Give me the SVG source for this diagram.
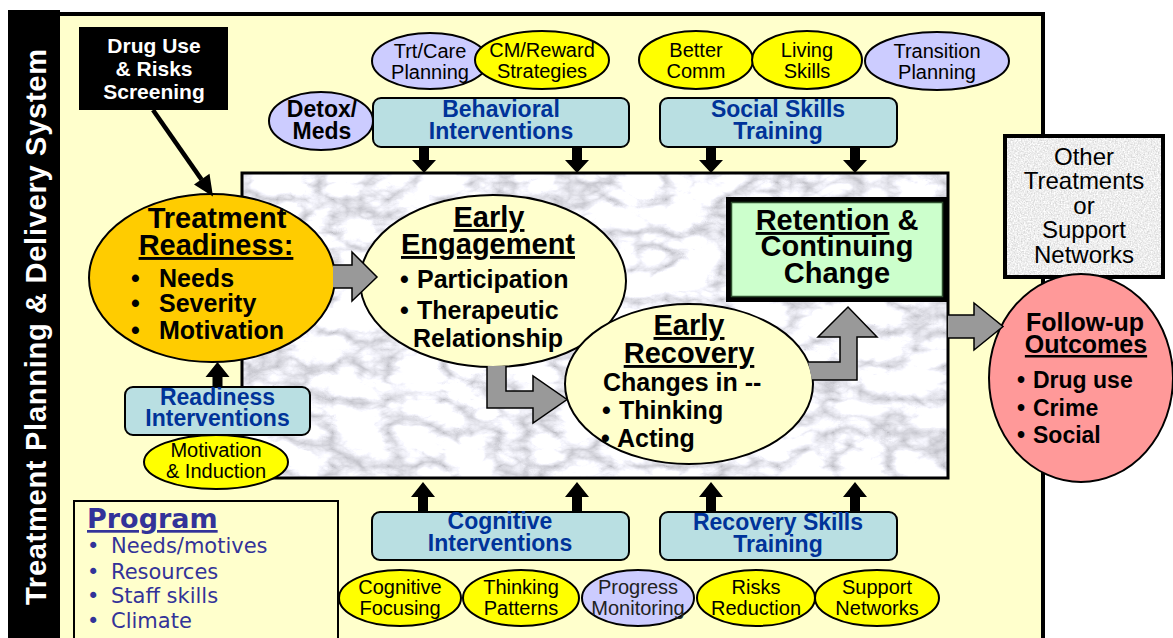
<svg xmlns="http://www.w3.org/2000/svg" width="1173" height="638" viewBox="0 0 1173 638">
<defs>
<style>
text{font-family:"Liberation Sans",Arial,sans-serif;fill:#000}
.b{font-weight:bold}
.c{text-anchor:middle}
.u{text-decoration:underline}
.ol{stroke:#000;stroke-width:2}
.yel{fill:#FFFF00;stroke:#000;stroke-width:2}
.lav{fill:#CCCCFF;stroke:#000;stroke-width:2}
.teal{fill:#B9DFE2;stroke:#000;stroke-width:2}
.sm{font-size:20px;text-anchor:middle}
.bx{font-size:23px;font-weight:bold;fill:#003399;text-anchor:middle}
.gray{fill:#999999;stroke:#000;stroke-width:1.5;stroke-linejoin:miter}
.blk{fill:#000}
.t30{font-size:29px;font-weight:bold;text-anchor:middle}
.t26{font-size:25px;font-weight:bold}
.prog{font-family:"DejaVu Sans",Verdana,sans-serif;fill:#333399;font-size:21px}
</style>
<filter id="marbleF" x="0" y="0" width="1" height="1" color-interpolation-filters="sRGB">
<feTurbulence type="turbulence" baseFrequency="0.018 0.03" numOctaves="5" seed="11"/>
<feColorMatrix type="matrix" values="0.7 0 0 0 0.74 0.7 0 0 0 0.74 0.7 0 0 0 0.77 0 0 0 0 1"/>
</filter>
<filter id="speckF" x="0" y="0" width="1" height="1" color-interpolation-filters="sRGB">
<feTurbulence type="fractalNoise" baseFrequency="0.7" numOctaves="2" seed="3"/>
<feColorMatrix type="matrix" values="0.3 0 0 0 0.78 0.3 0 0 0 0.78 0.3 0 0 0 0.78 0 0 0 0 1"/>
</filter>
<path id="arrDown" d="M-5,0 H5 V13 H12 L0,26 L-12,13 H-5 Z"/>
<path id="arrUp" d="M-5,0 H5 V-15 H12 L0,-30 L-12,-15 H-5 Z"/>
</defs>

<rect x="0" y="0" width="1173" height="638" fill="#fff"/>

<g id="panel">
<rect x="58" y="14" width="985" height="640" fill="#FFFFCC" stroke="#000" stroke-width="4"/>
<rect x="8" y="10" width="52" height="628" fill="#000"/>
<text transform="translate(46,327) rotate(-90)" class="b c" style="fill:#fff;font-size:29px" textLength="556" lengthAdjust="spacing">Treatment Planning &amp; Delivery System</text>
</g>

<g id="marble">
<rect x="242" y="173" width="706" height="305" fill="#ddd" filter="url(#marbleF)"/>
<rect x="242" y="173" width="706" height="305" fill="none" stroke="#000" stroke-width="3"/>
</g>

<g id="program">
<rect x="74" y="501" width="264" height="150" fill="#FFFFCC" stroke="#000" stroke-width="2"/>
<text x="87" y="528" class="prog u" style="font-weight:bold;font-size:27px">Program</text>
<text y="553" class="prog"><tspan x="87">•</tspan><tspan x="111">Needs/motives</tspan></text>
<text y="579" class="prog"><tspan x="87">•</tspan><tspan x="111">Resources</tspan></text>
<text y="603" class="prog"><tspan x="87">•</tspan><tspan x="111">Staff skills</tspan></text>
<text y="628" class="prog"><tspan x="87">•</tspan><tspan x="111">Climate</tspan></text>
</g>

<g id="screening">
<rect x="79" y="27" width="149" height="83" fill="#000"/>
<text class="b c" style="fill:#fff;font-size:21px"><tspan x="154" y="53">Drug Use</tspan><tspan x="154" y="76">&amp; Risks</tspan><tspan x="154" y="99">Screening</tspan></text>
</g>

<g id="trtcare"><ellipse cx="430" cy="61" rx="58" ry="28" class="lav"/>
<text class="sm"><tspan x="430" y="58">Trt/Care</tspan><tspan x="430" y="79">Planning</tspan></text></g>
<g id="cmreward"><ellipse cx="542" cy="60" rx="67" ry="29" class="yel"/>
<text class="sm"><tspan x="542" y="57">CM/Reward</tspan><tspan x="542" y="78">Strategies</tspan></text></g>
<g id="bettercomm"><ellipse cx="696" cy="60" rx="57" ry="29" class="yel"/>
<text class="sm"><tspan x="696" y="57">Better</tspan><tspan x="696" y="78">Comm</tspan></text></g>
<g id="livingskills"><ellipse cx="807" cy="60" rx="55" ry="29" class="yel"/>
<text class="sm"><tspan x="807" y="57">Living</tspan><tspan x="807" y="78">Skills</tspan></text></g>
<g id="transition"><ellipse cx="937" cy="61" rx="72" ry="29" class="lav"/>
<text class="sm"><tspan x="937" y="58">Transition</tspan><tspan x="937" y="79">Planning</tspan></text></g>

<g id="detox"><ellipse cx="321" cy="121" rx="52" ry="29" class="lav"/>
<text class="b c" style="font-size:23px"><tspan x="322" y="117">Detox/</tspan><tspan x="322" y="139">Meds</tspan></text></g>

<g id="behavioral"><rect x="373" y="98" width="256" height="49" rx="8" class="teal"/>
<text class="bx"><tspan x="501" y="117">Behavioral</tspan><tspan x="501" y="139">Interventions</tspan></text></g>
<g id="social"><rect x="660" y="98" width="237" height="49" rx="8" class="teal"/>
<text class="bx"><tspan x="778" y="117">Social Skills</tspan><tspan x="778" y="139">Training</tspan></text></g>

<g id="readiness"><ellipse cx="212" cy="278" rx="123" ry="84" fill="#FFCC00" class="ol"/>
<text x="217" y="228" class="t30">Treatment</text>
<text x="216" y="255" class="t30 u">Readiness:</text>
<text y="287" class="t26"><tspan x="131">•</tspan><tspan x="159">Needs</tspan></text>
<text y="312" class="t26"><tspan x="131">•</tspan><tspan x="159">Severity</tspan></text>
<text y="339" class="t26"><tspan x="131">•</tspan><tspan x="159">Motivation</tspan></text>
</g>

<g id="engagement"><ellipse cx="493" cy="281" rx="133" ry="86" fill="#FFFFCC" class="ol"/>
<text x="489" y="227" class="t30 u">Early</text>
<text x="488" y="254" class="t30 u">Engagement</text>
<text y="288" class="t26"><tspan x="400">•</tspan><tspan x="417">Participation</tspan></text>
<text y="319" class="t26"><tspan x="400">•</tspan><tspan x="417">Therapeutic</tspan></text>
<text x="413" y="347" class="t26">Relationship</text>
</g>

<g id="recovery"><ellipse cx="689" cy="384" rx="124" ry="80" fill="#FFFFCC" class="ol"/>
<text x="689" y="335" class="t30 u">Early</text>
<text x="689" y="363" class="t30 u">Recovery</text>
<text x="603" y="391" class="t26">Changes in --</text>
<text y="419" class="t26"><tspan x="602">•</tspan><tspan x="619">Thinking</tspan></text>
<text y="447" class="t26"><tspan x="601">•</tspan><tspan x="617">Acting</tspan></text>
</g>

<g id="retention">
<rect x="726" y="197" width="222" height="105" fill="#000"/>
<rect x="731.5" y="202.5" width="211" height="94" fill="#CCFFCC" stroke="#2F4F2F" stroke-width="1.5"/>
<text class="t30"><tspan x="837" y="230"><tspan class="u">Retention</tspan> &amp;</tspan><tspan x="837" y="256">Continuing</tspan><tspan x="837" y="283">Change</tspan></text>
</g>

<g id="readinessint"><rect x="125" y="387" width="185" height="48" rx="8" class="teal"/>
<text class="bx"><tspan x="217.5" y="405">Readiness</tspan><tspan x="217.5" y="426">Interventions</tspan></text></g>
<g id="motivation"><ellipse cx="216" cy="462" rx="72" ry="27" class="yel"/>
<text class="sm"><tspan x="216" y="457">Motivation</tspan><tspan x="216" y="478">&amp; Induction</tspan></text></g>

<g id="cognitive"><rect x="372" y="512" width="257" height="48" rx="8" class="teal"/>
<text class="bx"><tspan x="500" y="529">Cognitive</tspan><tspan x="500" y="551">Interventions</tspan></text></g>
<g id="recskills"><rect x="660" y="512" width="237" height="48" rx="8" class="teal"/>
<text class="bx"><tspan x="778" y="530">Recovery Skills</tspan><tspan x="778" y="552">Training</tspan></text></g>

<g id="cogfocus"><ellipse cx="400" cy="598" rx="61" ry="28" class="yel"/>
<text class="sm"><tspan x="400" y="594">Cognitive</tspan><tspan x="400" y="615">Focusing</tspan></text></g>
<g id="thinking"><ellipse cx="521" cy="598" rx="58" ry="28" class="yel"/>
<text class="sm"><tspan x="521" y="594">Thinking</tspan><tspan x="521" y="615">Patterns</tspan></text></g>
<g id="progress"><ellipse cx="638" cy="598" rx="56" ry="28" class="lav"/>
<text class="sm" style="fill:#222"><tspan x="638" y="594">Progress</tspan><tspan x="638" y="615">Monitoring</tspan></text></g>
<g id="risks"><ellipse cx="756" cy="598" rx="59" ry="28" class="yel"/>
<text class="sm"><tspan x="756" y="594">Risks</tspan><tspan x="756" y="615">Reduction</tspan></text></g>
<g id="support"><ellipse cx="877" cy="598" rx="62" ry="28" class="yel"/>
<text class="sm"><tspan x="877" y="594">Support</tspan><tspan x="877" y="615">Networks</tspan></text></g>

<g id="other">
<rect x="1005" y="136" width="158" height="141" fill="#eee" filter="url(#speckF)"/>
<rect x="1005" y="136" width="158" height="141" fill="none" stroke="#000" stroke-width="4"/>
<text class="c" style="font-size:24px"><tspan x="1084" y="165">Other</tspan><tspan x="1084" y="189">Treatments</tspan><tspan x="1084" y="214">or</tspan><tspan x="1084" y="238">Support</tspan><tspan x="1084" y="263">Networks</tspan></text>
</g>

<g id="followup"><ellipse cx="1081" cy="378" rx="92" ry="104" fill="#FF9999" class="ol"/>
<text x="1085" y="331" class="t26 c">Follow-up</text>
<text x="1086" y="353" class="t26 c u">Outcomes</text>
<text y="388" class="b" style="font-size:23px"><tspan x="1017">•</tspan><tspan x="1033">Drug use</tspan></text>
<text y="416" class="b" style="font-size:23px"><tspan x="1017">•</tspan><tspan x="1033">Crime</tspan></text>
<text y="443" class="b" style="font-size:23px"><tspan x="1017">•</tspan><tspan x="1033">Social</tspan></text>
</g>

<g id="connectors">
<line x1="153" y1="110" x2="201.6" y2="179.6" stroke="#000" stroke-width="4.5"/>
<polygon points="213,196.5 194,184.5 209.5,173.8" fill="#000"/>
<path d="M212.5,387 H222.5 V377 H229.5 L217.5,362 L205.5,377 H212.5 Z" class="blk"/>
<use href="#arrDown" x="424" y="147" class="blk"/>
<use href="#arrDown" x="577" y="147" class="blk"/>
<use href="#arrDown" x="711" y="147" class="blk"/>
<use href="#arrDown" x="855" y="147" class="blk"/>
<use href="#arrUp" x="423" y="512" class="blk"/>
<use href="#arrUp" x="577" y="512" class="blk"/>
<use href="#arrUp" x="711" y="512" class="blk"/>
<use href="#arrUp" x="855" y="512" class="blk"/>
<path d="M333,265 H352 V252 L377,277 L352,301 V288 H333" class="gray"/>
<path d="M487,366 V408 H533 V423 L567,399.5 L533,376 V391 H506 V366" class="gray"/>
<path d="M808,362 H840 V337 H818 L848,307 L877,337 H857 V380 H812" class="gray"/>
<path d="M948,315 H974 V303 L1003,326.5 L974,350 V338 H948" class="gray"/>
</g>
</svg>
